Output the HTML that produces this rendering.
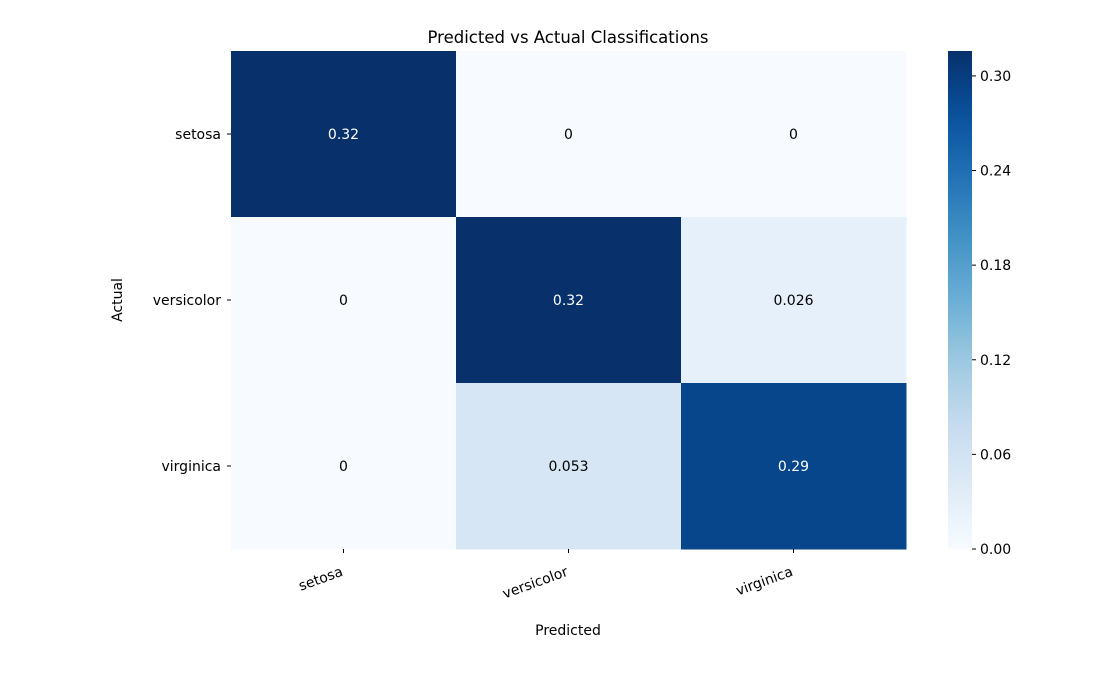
<!DOCTYPE html>
<html><head><meta charset="utf-8"><style>
body{margin:0;background:#fff;}
svg{display:block;font-family:"DejaVu Sans","Liberation Sans",sans-serif;}
</style></head><body>
<svg id="chart" width="1100" height="700">
<text x="568" y="43" text-anchor="middle" font-size="16.5">Predicted vs Actual Classifications</text>
<text x="568" y="635" text-anchor="middle" font-size="14">Predicted</text>
<text transform="translate(122,300) rotate(-90)" text-anchor="middle" font-size="14">Actual</text>
<defs><linearGradient id="cbgrad" x1="0" y1="1" x2="0" y2="0"></linearGradient></defs>
<g id="cells"></g><g id="axes"></g><g id="cbar"></g>
</svg>
<script>
const categories = ["setosa","versicolor","virginica"];
const values = [[0.3158,0,0],[0,0.3158,0.0263],[0,0.0526,0.2895]];
const labels = [["0.32","0","0"],["0","0.32","0.026"],["0","0.053","0.29"]];
const cbTicks = [0,0.06,0.12,0.18,0.24,0.30];
const cbTickLabels = ["0.00","0.06","0.12","0.18","0.24","0.30"];

const NS="http://www.w3.org/2000/svg";
const X0=231,X1=906,Y0=51,Y1=549;
const n=categories.length, cw=(X1-X0)/n, ch=(Y1-Y0)/n;
const vmax=Math.max(...values.flat()), vmin=0;
const xPos=i=>X0+i*cw, yPos=i=>Y0+i*ch;
const cbY=v=>Y1-(v-vmin)/(vmax-vmin)*(Y1-Y0);
const stops=["#f7fbff","#deebf7","#c6dbef","#9ecae1","#6baed6","#4292c6","#2171b5","#08519c","#08306b"];
function hex(h){return [1,3,5].map(i=>parseInt(h.substr(i,2),16));}
function blues(t){t=Math.max(0,Math.min(1,t));const p=t*8,i=Math.min(7,Math.floor(p)),f=p-i;
 const a=hex(stops[i]),b=hex(stops[i+1]);return "rgb("+a.map((c,k)=>Math.round(c+(b[k]-c)*f)).join(",")+")";}
function mk(tag,attrs,parent){const e=document.createElementNS(NS,tag);for(const k in attrs)e.setAttribute(k,attrs[k]);parent.appendChild(e);return e;}
const cells=document.getElementById('cells'),axes=document.getElementById('axes'),cbar=document.getElementById('cbar');
for(let r=0;r<n;r++)for(let c=0;c<n;c++){
 const t=(values[r][c]-vmin)/(vmax-vmin);
 const rc=mk('rect',{x:xPos(c),y:yPos(r),width:cw+0.5,height:ch+0.5,fill:blues(t)},cells);
 
 
 const tx=mk('text',{x:xPos(c)+cw/2,y:yPos(r)+ch/2+5,'text-anchor':'middle','font-size':14,fill:t>0.5?'#fff':'#000'},cells);
 tx.textContent=labels[r][c];
 
 
}
categories.forEach((cat,i)=>{
 const cx=xPos(i)+cw/2;
 mk('line',{x1:cx,y1:Y1,x2:cx,y2:Y1+4,stroke:'#000'},axes);
 const xl=mk('text',{transform:`translate(${cx-3},${Y1+17}) rotate(-20)`,'text-anchor':'end','font-size':14,dy:'0.7em'},axes);
 xl.textContent=cat;
 
 
 const cy=yPos(i)+ch/2;
 mk('line',{x1:X0,y1:cy,x2:X0-4,y2:cy,stroke:'#000'},axes);
 const yl=mk('text',{x:X0-10,y:cy+5,'text-anchor':'end','font-size':14},axes);
 yl.textContent=cat;
 
 
});
const grad=document.getElementById('cbgrad');
for(let k=0;k<=20;k++)mk('stop',{offset:k/20,'stop-color':blues(k/20)},grad);
const cb=mk('rect',{x:948,y:Y0,width:24,height:Y1-Y0,fill:'url(#cbgrad)'},cbar);


cbTicks.forEach((v,i)=>{
 const y=cbY(v);
 mk('line',{x1:972,y1:y,x2:976,y2:y,stroke:'#000'},cbar);
 const t=mk('text',{x:980,y:y+5,'font-size':14},cbar);
 t.textContent=cbTickLabels[i];
 
 
});
</script>
</body></html>
